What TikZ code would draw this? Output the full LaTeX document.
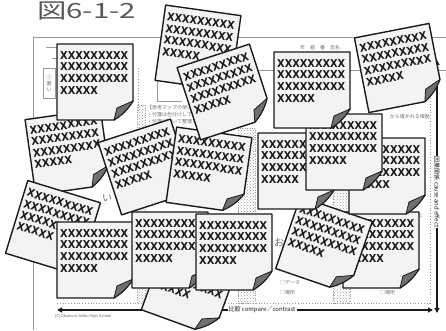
\documentclass[tikz,border=0pt]{standalone}
\usepackage{fontspec}
\setmainfont{Liberation Sans}
\newfontfamily\jp{Noto Sans CJK JP}
\newfontfamily\xfont{DejaVu Sans Condensed}
\usetikzlibrary{arrows.meta,patterns}
\definecolor{ink}{HTML}{1A1A1A}
\definecolor{paper}{HTML}{F3F3F3}
\definecolor{fold}{HTML}{707070}
\definecolor{sheetline}{HTML}{9A9A9A}
\definecolor{faint}{HTML}{6E6E6E}
\tikzset{
  note/.style={draw=ink,line width=1.4pt,fill=paper,line join=round},
  curl/.style={draw=ink,line width=0.8pt,fill=fold,line join=round},
  xtext/.style={font=\xfont\bfseries\fontsize{10.9}{11.7}\selectfont,text=ink,align=left,inner sep=0pt,anchor=north west},
  sheet/.style={draw=sheetline,line width=1pt},
  dotline/.style={draw=sheetline,line width=0.8pt,dotted},
  band/.style={pattern=crosshatch dots,pattern color=sheetline,draw=sheetline,dotted},
  axis/.style={draw=ink,line width=1.6pt,{Triangle[length=5pt,width=5pt]}-{Triangle[length=5pt,width=5pt]}},
  tiny/.style={font=\jp\fontsize{5}{6}\selectfont,text=faint,inner sep=0pt},
  axlbl/.style={font=\jp\fontsize{6}{7}\selectfont,text=ink,fill=white,inner sep=1pt}}
% sticky note: name, x, y, angle
\newcommand\fusen[4]{%
  \begin{scope}[shift={(#2,#3)},rotate=#4,transform shape]
    \path[note] (-38,-38) -- (38,-38) -- (38,19) to[bend left=12] (19,38) -- (-38,38) -- cycle;
    \path[curl] (38,19) to[bend left=12] (19,38) -- (22,26) -- cycle;
    \node[xtext] (#1) at (-35,-31) {XXXXXXXXX\\XXXXXXXXX\\XXXXXXXXX\\XXXXX};
  \end{scope}}

\begin{document}
\begin{tikzpicture}[x=1pt,y=-1pt]
\useasboundingbox (0,0) rectangle (446,330);
\clip (0,0) rectangle (446,330);
\fill[white] (0,0) rectangle (446,330);
\node[font=\jp\fontsize{21}{21}\selectfont,text=faint!80!black,inner sep=0pt,anchor=base west,xscale=1.4] (ttl) at (37,18) {図6-1-2};

% worksheet underneath
\draw[sheet] (33,330) -- (33,37) -- (446,37);
\draw[sheet,line width=0.6pt] (255,70) -- (446,70);
\node[tiny,anchor=west] (nm) at (300,48) {年　組　番　氏名};
\draw[sheet,line width=0.7pt] (43,68) rectangle (55,98);
\node[tiny,align=center] (bx) at (49,83) {①\\書\\い};
\draw[sheet,line width=0.7pt] (46,47) -- (57,47) (52,58) -- (57,58);
\draw[dotline] (138,68) -- (138,112);
\draw[sheet,line width=0.7pt] (157,60) |- (182,101);
\node[tiny,anchor=west] (u1) at (147,108) {【思考マップの使い方】};
\node[tiny,anchor=west] (u2) at (147,115) {・付箋は色分けして貼る};
\node[tiny,anchor=west] (u3) at (147,122) {・付箋に書いて整理する};
\node[tiny,anchor=east] (u4) at (430,117) {から導かれる根拠};
\node[tiny,anchor=west] (u5) at (418,216) {と};
\fill[band] (137,105) rectangle (145,303);
\fill[band] (238,128) rectangle (255,303);
\fill[band] (333,125) rectangle (350,303);
\draw[dotline] (57,303) -- (430,303) -- (430,62);
\node[font=\jp\fontsize{10}{10}\selectfont,text=faint,inner sep=0pt] (big1) at (107,198) {い};
\node[font=\jp\fontsize{10}{10}\selectfont,text=faint,inner sep=0pt] (big2) at (279,243) {お};
\node[tiny,anchor=west] (c1) at (280,283) {□データ};
\node[tiny,anchor=west] (c2) at (280,293) {□場所};
\node[tiny,anchor=west] (c3) at (380,293) {□場所};
\node[tiny,anchor=west,font=\fontsize{4}{5}\selectfont] (cr) at (55,316) {(C)Okumura Seibu High School};

% axes
\draw[axis] (57,310) -- (433,310);
\node[axlbl] (xl) at (262,310) {比較 compare／contrast};
\draw[axis] (437,60) -- (437,313);
\node[axlbl,rotate=-90] (yl) at (437,192) {因果関係 cause and effect};

% sticky notes, bottom first
\fusen{n6}{68}{152}{8}
\fusen{n7}{146}{167}{18}
\fusen{n15}{53}{228}{-17}
\fusen{n14}{95}{260}{0}
\fusen{n16}{190}{287}{-20}
\fusen{n13}{170}{250}{0}
\fusen{n12}{234}{252}{0}
\fusen{n18}{381}{250}{0}
\fusen{n17}{324}{245}{-19}
\fusen{n9}{296}{171}{0}
\fusen{n11}{387}{176}{0}
\fusen{n10}{344}{152}{0}
\fusen{n4}{312}{90}{0}
\fusen{n5}{399}{68}{11}
\fusen{nA}{95}{82}{0}
\fusen{n8}{209}{170}{-8}
\fusen{nB}{198}{48}{-8}
\fusen{nD}{225}{92}{18}
\end{tikzpicture}
\end{document}
